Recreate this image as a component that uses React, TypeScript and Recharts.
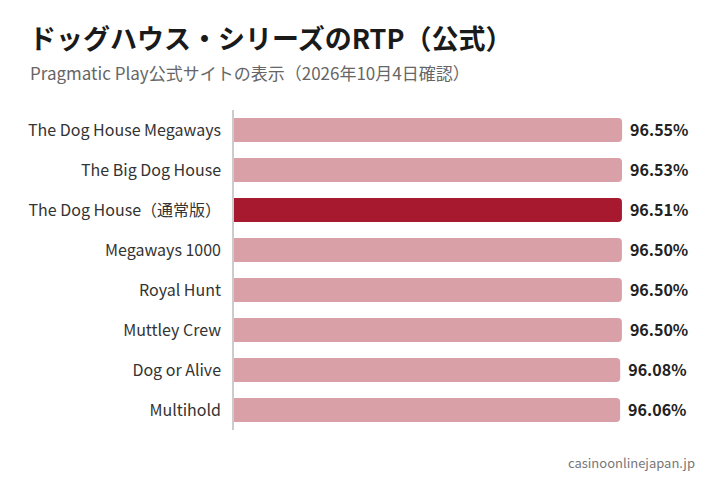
import React from 'react';
import { BarChart, Bar, XAxis, YAxis, Cell, LabelList } from 'recharts';

const games = [
  'The Dog House Megaways',
  'The Big Dog House',
  'The Dog House（通常版）',
  'Megaways 1000',
  'Royal Hunt',
  'Muttley Crew',
  'Dog or Alive',
  'Multihold',
];
const rtpValues = [96.55, 96.53, 96.51, 96.5, 96.5, 96.5, 96.08, 96.06];
const highlightIndex = 2;

const title = 'ドッグハウス・シリーズのRTP（公式）';
const subtitle = 'Pragmatic Play公式サイトの表示（2026年10月4日確認）';
const source = 'casinoonlinejapan.jp';

const data = games.map((name, i) => ({ name, rtp: rtpValues[i] }));

const FONT = '"Noto Sans CJK JP", "Noto Sans", sans-serif';

export default function App() {
  return (
    <div
      style={{
        position: 'fixed',
        left: 0,
        top: 0,
        width: 720,
        height: 480,
        background: '#fff',
        fontFamily: FONT,
      }}
    >
      <div
        style={{
          position: 'absolute',
          left: 29,
          top: 19,
          fontSize: 27,
          fontWeight: 700,
          color: '#1a1a1a',
          lineHeight: '38px',
          whiteSpace: 'nowrap',
        }}
      >
        {title}
      </div>
      <div
        style={{
          position: 'absolute',
          left: 30,
          top: 61,
          fontSize: 17,
          color: '#666',
          lineHeight: '24px',
          whiteSpace: 'nowrap',
        }}
      >
        {subtitle}
      </div>
      <div style={{ position: 'absolute', left: 0, top: 0 }}>
        <BarChart
          width={720}
          height={480}
          data={data}
          layout="vertical"
          margin={{ top: 110, right: 84, bottom: 50, left: 0 }}
          barSize={24}
        >
          <XAxis type="number" domain={[0, 100]} hide />
          <YAxis
            type="category"
            dataKey="name"
            width={233}
            tickLine={false}
            tickMargin={6}
            axisLine={{ stroke: '#cccccc', strokeWidth: 2 }}
            tick={{ fontSize: 16, fill: '#333', fontFamily: FONT }}
            interval={0}
          />
          <Bar dataKey="rtp" radius={[0, 4, 4, 0]} isAnimationActive={false}>
            {data.map((d, i) => (
              <Cell key={d.name} fill={i === highlightIndex ? '#a6192e' : '#d9a0a8'} />
            ))}
            <LabelList
              dataKey="rtp"
              position="right"
              offset={8}
              formatter={(v: number) => `${v.toFixed(2)}%`}
              style={{ fontSize: 16, fontWeight: 700, fill: '#222', fontFamily: FONT }}
            />
          </Bar>
        </BarChart>
      </div>
      <div
        style={{
          position: 'absolute',
          right: 25,
          top: 453,
          fontSize: 13,
          color: '#777',
          lineHeight: '20px',
          whiteSpace: 'nowrap',
        }}
      >
        {source}
      </div>
    </div>
  );
}
